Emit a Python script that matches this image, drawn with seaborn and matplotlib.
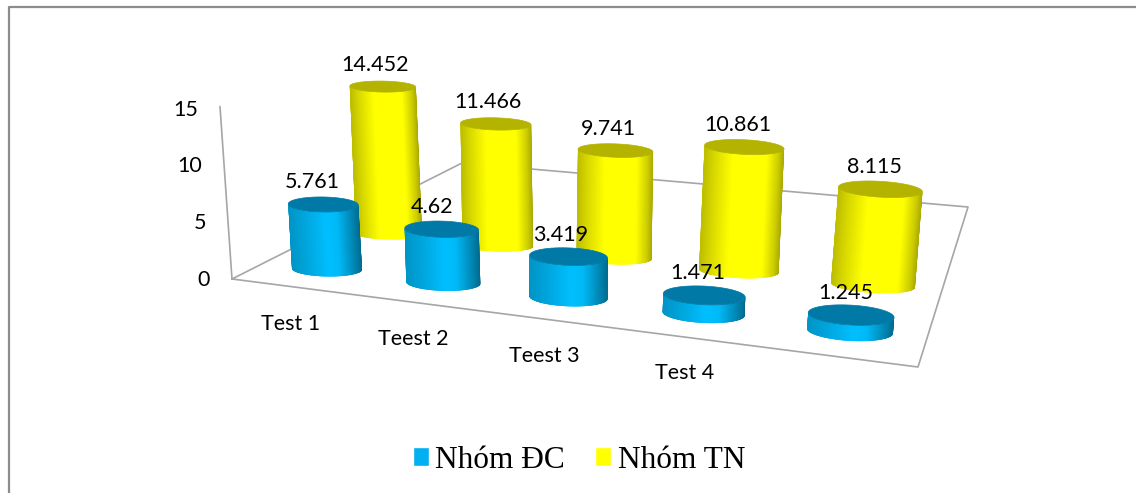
import numpy as np
import pandas as pd
import matplotlib
matplotlib.use('Agg')
import matplotlib.pyplot as plt
from matplotlib.collections import PolyCollection
from matplotlib.patches import Polygon
import seaborn as sns

categories = ['Test 1', 'Teest 2', 'Teest 3', 'Test 4', ' ']
series_names = ['Nhóm ĐC', 'Nhóm TN']
nhom_dc = [5.761, 4.62, 3.419, 1.471, 1.245]
nhom_tn = [14.452, 11.466, 9.741, 10.861, 8.115]
value_ticks = [0, 5, 10, 15]

colors = ['#00b0f0', '#ffff00']
side_colors = ['#00bfff', '#ffff00']
top_colors = ['#0079a6', '#b3b300']
shade_stops = [
    ([-1, -0.5, 0.05, 0.35, 0.75, 1], [0.78, 0.88, 1, 0.97, 0.72, 0.55]),
    ([-1, -0.75, -0.3, 0.55, 0.85, 1], [0.75, 0.85, 1, 1, 0.8, 0.65]),
]

# outline of the floor on screen
floor_px = [(232, 279), (918, 367), (968, 207), (462, 163)]
# where the base centres of the four corner cylinders sit on screen
base_px = [(327, 269), (850, 331), (873, 285), (389, 234)]
n_cat = len(categories)
vanish_x, vanish_y = 560, 4300


def fit_base():
    src = [(0, 0), (n_cat - 1, 0), (n_cat - 1, 1), (0, 1)]
    a, b = [], []
    for (u, v), (x, y) in zip(src, base_px):
        a.append([u, v, 1, 0, 0, 0, -u * x, -v * x])
        a.append([0, 0, 0, u, v, 1, -u * y, -v * y])
        b += [x, y]
    return np.append(np.linalg.solve(np.array(a, float), np.array(b, float)), 1).reshape(3, 3)


H = fit_base()


def project(cat, row, z=0.0):
    """category, series and value -> screen pixel of the cylinder axis"""
    w = H[2, 0] * cat + H[2, 1] * row + 1
    x = (H[0, 0] * cat + H[0, 1] * row + H[0, 2]) / w
    y = (H[1, 0] * cat + H[1, 1] * row + H[1, 2]) / w
    rise = (11.2 + 0.4 * cat - 1.0 * row) * z
    return x + (x - vanish_x) * rise / (vanish_y - y), y - rise


def axis_point(z):
    return 232 - 0.8 * z, 279 - 11.5 * z


def ellipse(cx, cy, cat, row, t):
    a = (35 - 2 * row) + 2.0 * cat + row * 0.25 * cat
    b = (7.5 - 2 * row) + 0.6 * cat
    tilt = np.radians(1 + 0.6 * cat)
    ex, ey = a * np.cos(t), b * np.sin(t)
    return cx + ex * np.cos(tilt) - ey * np.sin(tilt), cy + ex * np.sin(tilt) + ey * np.cos(tilt)


def shade(row, s):
    rgb = np.array(matplotlib.colors.to_rgb(side_colors[row]))
    return rgb * np.interp(s, *shade_stops[row])


def draw_cylinder(ax, cat, row, value):
    base = project(cat, row)
    top = project(cat, row, value)
    t = np.linspace(0, np.pi, 81)
    bx, by = ellipse(base[0], base[1], cat, row, t)
    tx, ty = ellipse(top[0], top[1], cat, row, t)
    outline = Polygon(np.r_[np.c_[bx, by], np.c_[tx, ty][::-1]], closed=True, transform=ax.transData)

    # shaded strips running up the side, trimmed to a clean outline
    mid, half = (bx.min() + bx.max()) / 2, (bx.max() - bx.min()) / 2
    polys, cols = [], []
    for i in range(len(t) - 1):
        polys.append([(bx[i], by[i]), (bx[i + 1], by[i + 1]), (tx[i + 1], ty[i + 1]), (tx[i], ty[i])])
        cols.append(shade(row, ((bx[i] + bx[i + 1]) / 2 - mid) / half))
    strips = PolyCollection(polys, facecolors=cols, edgecolors=cols, linewidths=1.0, zorder=3)
    ax.add_collection(strips)
    strips.set_clip_path(outline)

    full = np.linspace(0, 2 * np.pi, 121)
    ex, ey = ellipse(top[0], top[1], cat, row, full)
    ax.add_patch(Polygon(np.c_[ex, ey], closed=True, facecolor=top_colors[row],
                         edgecolor=top_colors[row], linewidth=0.5, zorder=3))
    return top


sns.set_theme(style='white')
plt.rcParams['font.family'] = ['Lato', 'DejaVu Sans']
plt.rcParams['text.color'] = 'black'

df = pd.DataFrame({
    'test': categories * 2,
    'group': [series_names[0]] * n_cat + [series_names[1]] * n_cat,
    'score': nhom_dc + nhom_tn,
})

fig = plt.figure(figsize=(11.36, 4.93), dpi=100)
ax = fig.add_axes([0, 0, 1, 1])
sns.barplot(data=df, x='test', y='score', hue='group', palette=colors, saturation=1, ax=ax)

# seaborn lays the bars out, then each one is redrawn as a cylinder
bars = []
for row, container in enumerate(ax.containers):
    for bar in container:
        cat = int(round(bar.get_x() + bar.get_width() / 2))
        bars.append((row, cat, bar.get_height()))
        bar.set_visible(False)

sns.move_legend(ax, 'center', bbox_to_anchor=(579 / 1136, 1 - 460 / 493), ncol=2, frameon=False,
                title=None, prop={'family': 'Liberation Serif', 'size': 22.6}, handlelength=0.52,
                handleheight=0.52, handletextpad=0.2, columnspacing=0.95)

ax.set_xlim(0, 1136)
ax.set_ylim(493, 0)
ax.set_axis_off()

# outer frame
ax.plot([9, 9, 1136], [493, 7, 7], color='#8c8c8c', lw=1.6, zorder=1)

# floor and value axis
fx = [p[0] for p in floor_px] + [floor_px[0][0]]
fy = [p[1] for p in floor_px] + [floor_px[0][1]]
ax.plot(fx, fy, color='#a6a6a6', lw=1.2, zorder=2)
ax0 = axis_point(value_ticks[0])
ax1 = axis_point(value_ticks[-1])
ax.plot([ax0[0], ax1[0]], [ax0[1], ax1[1]], color='#a6a6a6', lw=1.2, zorder=2)

for tick in value_ticks:
    x, y = axis_point(tick)
    ax.text(x - 22, y + 1 + 0.15 * tick, str(tick), ha='right', va='center', fontsize=15.5, zorder=5)

for i, name in enumerate(categories):
    x, y = project(i, 0)
    ax.text(x - 36 + 5.7 * i, y + 54.5 + 1.7 * i, name, ha='center', va='center', fontsize=15.5, zorder=5)

# back row first so the front row covers it
label_dx = [(-11, 1.5), (-8, 0.5)]
for row, cat, value in sorted(bars, key=lambda b: (-b[0], b[1])):
    tx, ty = draw_cylinder(ax, cat, row, value)
    dx = label_dx[row][0] + label_dx[row][1] * cat
    ax.text(tx + dx, ty - 22, f'{value:g}', ha='center', va='center', fontsize=15.5, zorder=5)

fig.savefig('out.png', dpi=100)
